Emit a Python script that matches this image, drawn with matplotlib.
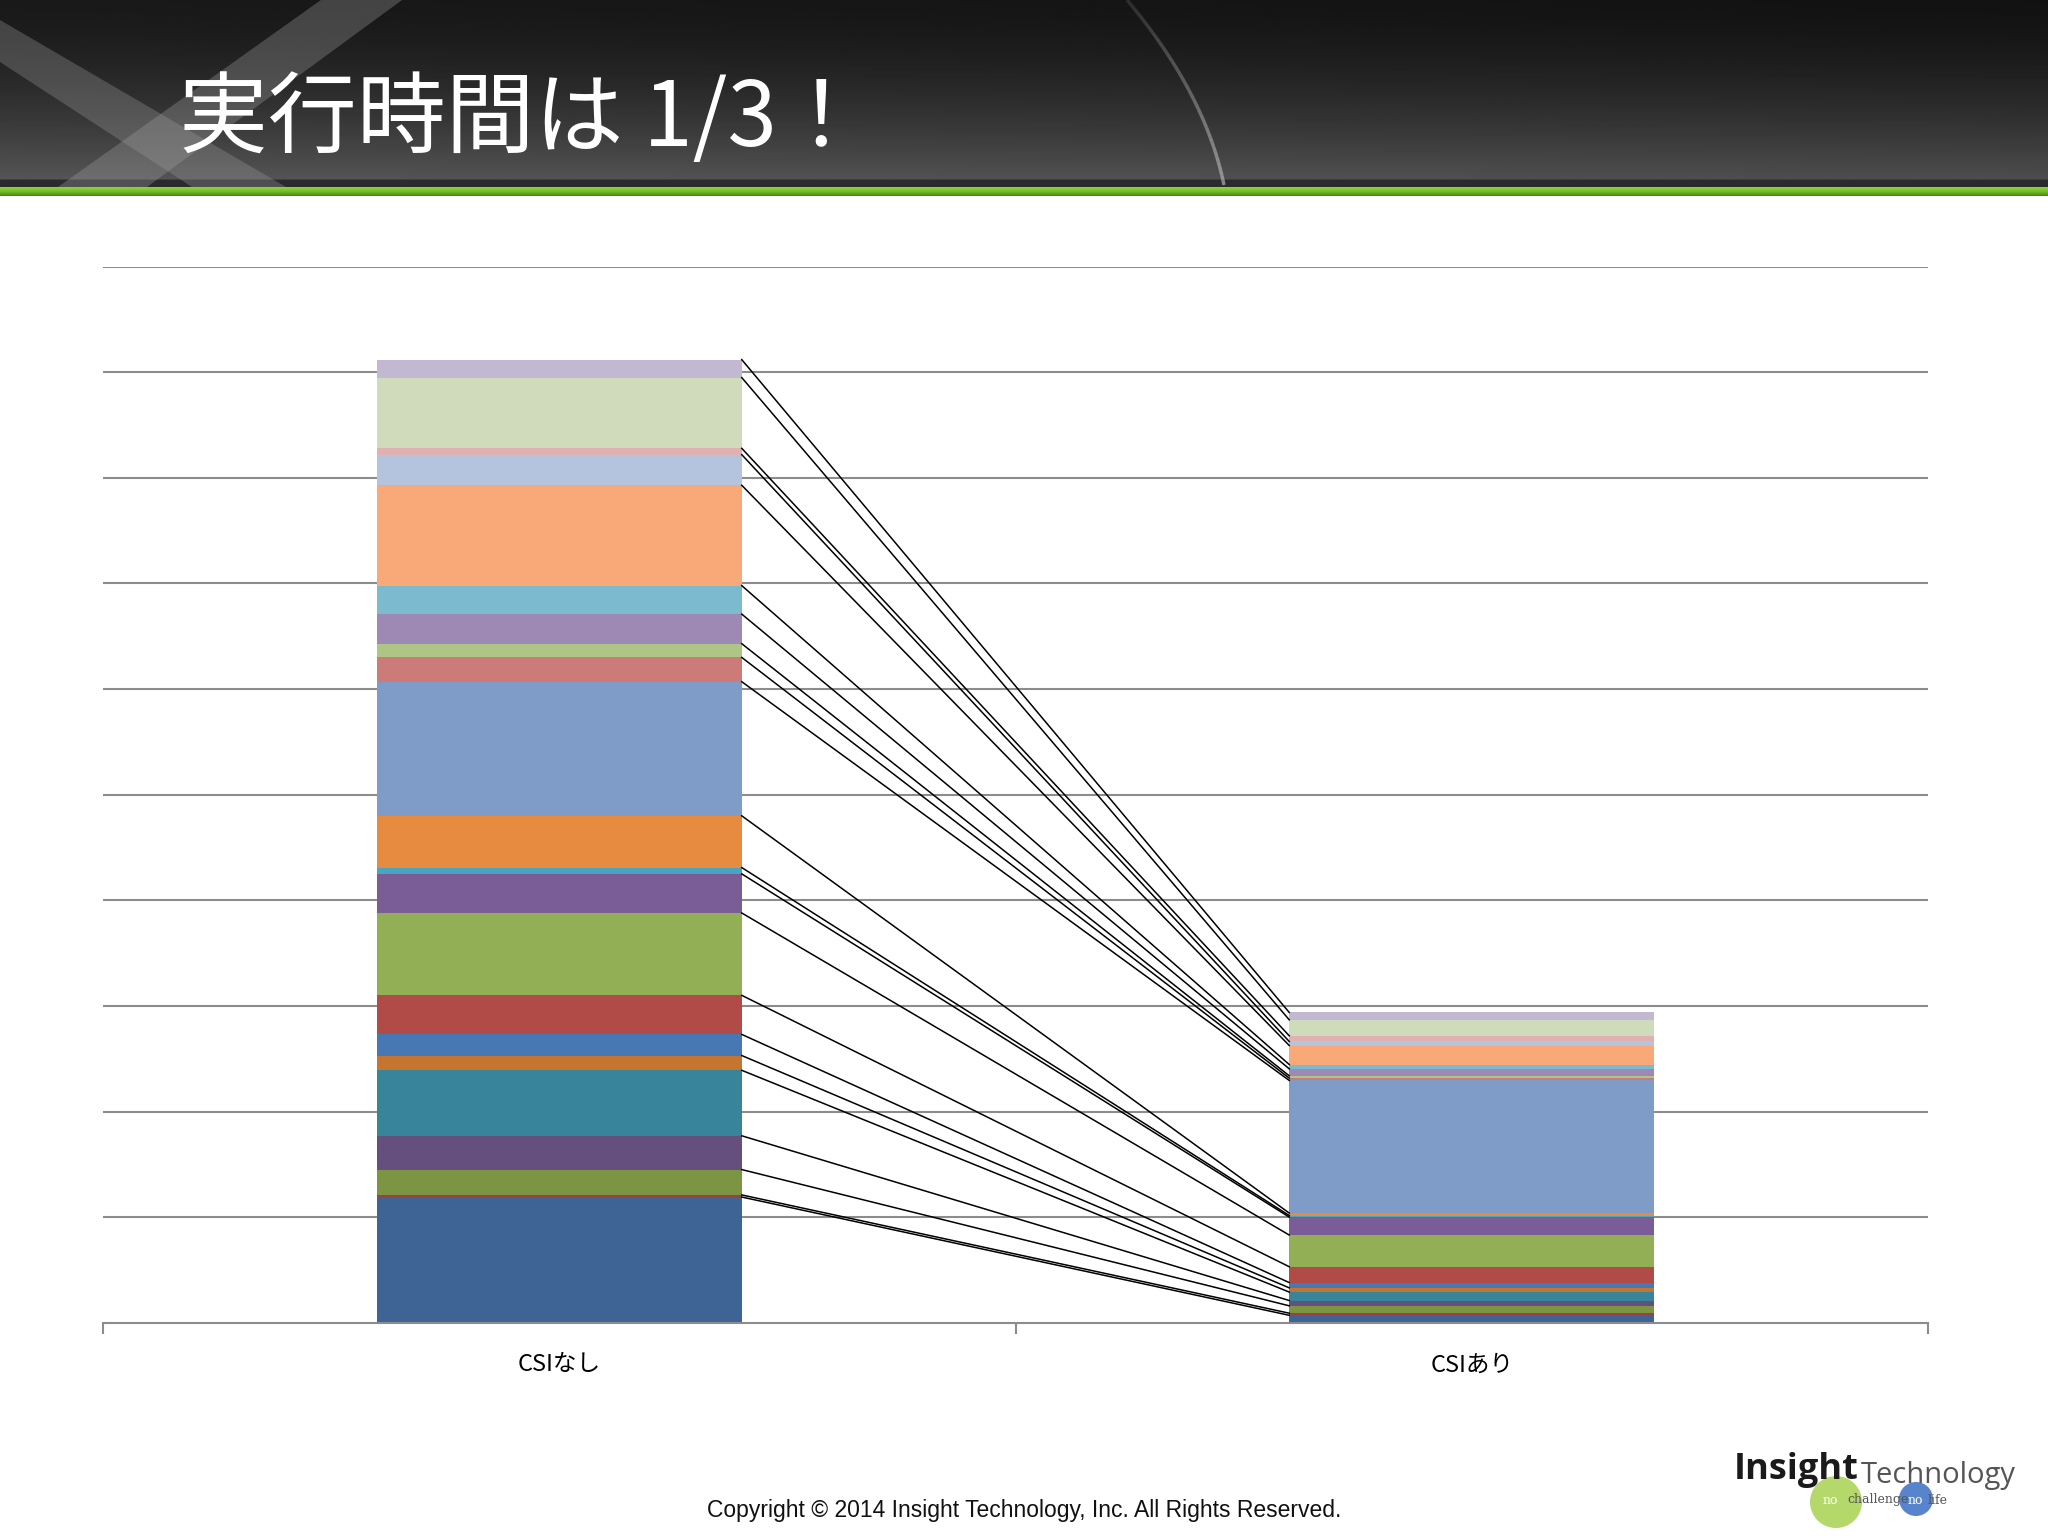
import numpy as np
import matplotlib.pyplot as plt
from matplotlib.patches import Polygon, Circle
from matplotlib.colors import LinearSegmentedColormap

plt.rcParams['font.family'] = ['Noto Sans CJK JP', 'DejaVu Sans']

# データ（下から上へ積み上げ）
categories = ['CSIなし', 'CSIあり']
csi_nashi = [1.19, 0.02, 0.24, 0.32, 0.62, 0.14, 0.20, 0.37, 0.78, 0.37, 0.06,
             0.49, 1.27, 0.23, 0.13, 0.28, 0.27, 0.95, 0.29, 0.06, 0.67, 0.17]
csi_ari = [0.07, 0.02, 0.07, 0.05, 0.08, 0.04, 0.05, 0.15, 0.30, 0.17, 0.015,
           0.023, 1.256, 0.022, 0.022, 0.066, 0.041, 0.18, 0.038, 0.054, 0.151, 0.07]
colors = ['#3E6395', '#9E413E', '#7B9542', '#644F7F', '#38849A', '#C47530',
          '#4778B3', '#B04B48', '#93AF55', '#7A5D96', '#48A4BF', '#E68B40',
          '#7F9BC8', '#CC7B78', '#AFC585', '#9E89B5', '#7BBACF', '#F8A977',
          '#B4C4DF', '#E0B1B0', '#CFDBBB', '#C3B8D2']

fig = plt.figure(figsize=(20.48, 15.36), dpi=100)
fig.patch.set_facecolor('white')

# ヘッダー（ピクセル座標）
hdr = fig.add_axes([0, 1 - 187 / 1536, 1, 187 / 1536])
yy = np.linspace(0, 1, 100)[:, None]
xx = np.linspace(0, 1, 400)[None, :]
grad = 0.10 + 0.25 * yy ** 1.6 - 0.03 * xx
grad[-4:, :] = 0.17
hdr.imshow(grad, cmap='gray', vmin=0, vmax=1, aspect='auto', extent=[0, 2048, 187, 0])
hdr.add_patch(Polygon([[0, 20], [0, 62], [192, 187], [286, 187]],
                      closed=True, color='#9a9a9a', alpha=0.33, lw=0))
hdr.add_patch(Polygon([[321, 0], [402, 0], [147, 187], [58, 187]],
                      closed=True, color='#a0a0a0', alpha=0.33, lw=0))
# 弧（上に行くほど薄く）
ys = np.linspace(0, 185, 40)
xs = 1127 + 0.8414 * ys - 0.001714 * ys ** 2
for k in range(len(ys) - 1):
    hdr.plot(xs[k:k + 2], ys[k:k + 2], color='#c0c0c0', lw=2.5,
             alpha=0.15 + 0.5 * k / len(ys), solid_capstyle='butt')
hdr.set_xlim(0, 2048)
hdr.set_ylim(187, 0)
hdr.axis('off')

strip = fig.add_axes([0, 1 - 196 / 1536, 1, 9 / 1536])
strip.imshow(np.linspace(0, 1, 10)[:, None],
             cmap=LinearSegmentedColormap.from_list('g', ['#8CD040', '#72BE28', '#4A8A14']),
             aspect='auto')
strip.axis('off')

fig.text(179 / 2048, 1 - 121 / 1536, '実行時間は 1/3！', color='white',
         fontsize=64, va='center', ha='left')

# グラフ本体
ax = fig.add_axes([103 / 2048, 213.3 / 1536, 1825 / 2048, 1056 / 1536])
x = np.arange(len(categories))
width = 0.4
bottom = np.zeros(2)
for i in range(len(colors)):
    vals = np.array([csi_nashi[i], csi_ari[i]])
    ax.bar(x, vals, width, bottom=bottom, color=colors[i], lw=0, zorder=2)
    bottom = bottom + vals
    ax.plot([x[0] + width / 2, x[1] - width / 2], bottom, color='black', lw=1.1, zorder=3)

ax.set_xlim(-0.5, 1.5)
ax.set_ylim(0, 10)
ax.set_yticks(np.arange(1, 11))
ax.yaxis.grid(True, color='#8c8c8c', lw=1.5)
ax.set_axisbelow(True)
ax.tick_params(axis='y', length=0, labelleft=False)
ax.set_xticks([-0.5, 0.5, 1.5])
ax.set_xticks(x, minor=True)
ax.set_xticklabels(['', '', ''])
ax.set_xticklabels(categories, minor=True, fontsize=17)
ax.tick_params(axis='x', which='major', length=8, color='#8c8c8c', width=1.5)
ax.tick_params(axis='x', which='minor', length=0, pad=22)
for s in ['top', 'right', 'left']:
    ax.spines[s].set_visible(False)
ax.spines['bottom'].set_color('#8c8c8c')
ax.spines['bottom'].set_linewidth(1.5)

# フッター
fig.text(0.5, 1 - 1510 / 1536, 'Copyright © 2014 Insight Technology, Inc. All Rights Reserved.',
         fontsize=16.5, ha='center', va='center', family='Liberation Sans', color='#111111')

logo = fig.add_axes([1680 / 2048, 0, 368 / 2048, 116 / 1536])
logo.set_xlim(1680, 2048)
logo.set_ylim(1536, 1420)
logo.add_patch(Circle((1836, 1502), 26, color='#9CCB3A', alpha=0.75, lw=0))
logo.add_patch(Circle((1916, 1499), 17, color='#3A6FC4', alpha=0.85, lw=0))
logo.text(1734, 1470, 'Insight', fontsize=26, fontweight='bold', color='#1a1a1a',
          family='Open Sans', va='center')
logo.text(1861, 1475, 'Technology', fontsize=21, color='#555555', family='Open Sans', va='center')
logo.text(1823, 1500, 'no', fontsize=9, color='white', family='DejaVu Serif', va='center')
logo.text(1847, 1500, 'challenge', fontsize=9, color='#555555', family='DejaVu Serif', va='center')
logo.text(1908, 1500, 'no', fontsize=9, color='white', family='DejaVu Serif', va='center')
logo.text(1928, 1500, 'life', fontsize=9, color='#555555', family='DejaVu Serif', va='center')
logo.axis('off')

fig.savefig('out.png', dpi=100)
